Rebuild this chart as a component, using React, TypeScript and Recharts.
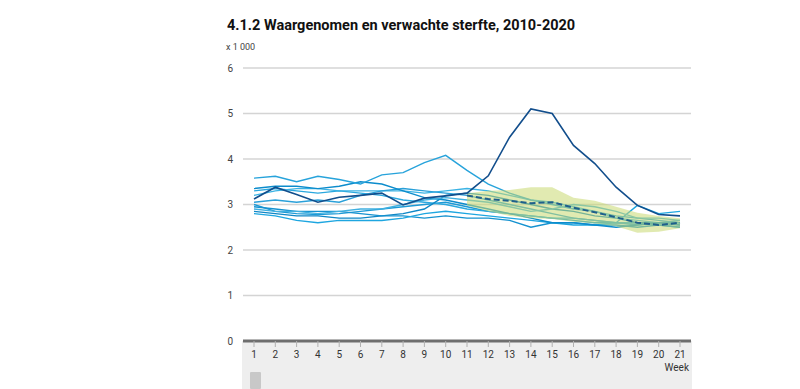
import { ComposedChart, Line, Area, XAxis, YAxis, CartesianGrid } from 'recharts';

const weeks = ['1', '2', '3', '4', '5', '6', '7', '8', '9', '10', '11', '12', '13', '14', '15', '16', '17', '18', '19', '20', '21'];
const yTicks = [0, 1, 2, 3, 4, 5, 6];

// waargenomen sterfte per week, x 1 000
const y2010 = [3.0, 2.85, 2.8, 2.78, 2.8, 2.85, 2.9, 2.95, 3.0, 3.05, 2.95, 2.85, 2.8, 2.75, 2.7, 2.65, 2.6, 2.6, 2.6, 2.6, 2.55];
const y2011 = [3.3, 3.35, 3.3, 3.25, 3.3, 3.25, 3.2, 3.1, 3.05, 3.0, 2.9, 2.85, 2.8, 2.75, 2.7, 2.7, 2.65, 2.6, 2.6, 2.55, 2.5];
const y2012 = [2.85, 2.8, 2.75, 2.75, 2.7, 2.7, 2.75, 2.8, 2.9, 3.2, 3.25, 3.2, 3.1, 3.0, 2.9, 2.85, 2.75, 2.7, 2.6, 2.6, 2.55];
const y2013 = [3.2, 3.3, 3.35, 3.35, 3.3, 3.3, 3.3, 3.3, 3.25, 3.3, 3.35, 3.3, 3.2, 3.1, 3.05, 2.95, 2.85, 2.7, 2.65, 2.6, 2.6];
const y2014 = [2.95, 2.9, 2.85, 2.85, 2.85, 2.8, 2.75, 2.75, 2.7, 2.75, 2.7, 2.7, 2.65, 2.5, 2.6, 2.6, 2.55, 2.55, 2.5, 2.55, 2.5];
const y2015 = [3.05, 3.1, 3.05, 3.1, 3.05, 3.2, 3.3, 3.35, 3.3, 3.25, 3.2, 3.1, 3.0, 2.9, 2.8, 2.7, 2.65, 2.6, 2.55, 2.6, 2.6];
const y2016 = [2.8, 2.75, 2.65, 2.6, 2.65, 2.65, 2.65, 2.7, 2.8, 2.85, 2.8, 2.75, 2.7, 2.65, 2.6, 2.55, 2.55, 2.6, 2.98, 2.8, 2.85];
const y2017 = [3.35, 3.4, 3.4, 3.35, 3.4, 3.5, 3.45, 3.3, 3.15, 3.1, 3.0, 2.9, 2.8, 2.7, 2.6, 2.6, 2.55, 2.5, 2.55, 2.6, 2.65];
const y2018 = [3.58, 3.62, 3.5, 3.62, 3.55, 3.45, 3.65, 3.7, 3.92, 4.08, 3.75, 3.45, 3.25, 3.1, 3.0, 2.9, 2.85, 2.75, 2.7, 2.65, 2.6];
const y2019 = [2.9, 2.85, 2.85, 2.8, 2.85, 2.9, 2.9, 3.0, 3.1, 3.15, 3.1, 3.05, 2.95, 2.85, 2.9, 3.0, 2.95, 2.85, 2.7, 2.7, 2.65];
const y2020 = [3.12, 3.38, 3.22, 3.05, 3.16, 3.2, 3.25, 2.99, 3.14, 3.19, 3.25, 3.63, 4.48, 5.1, 5.0, 4.3, 3.9, 3.38, 2.98, 2.78, 2.75];

// verwachte sterfte vanaf week 11
const expected = [3.2, 3.12, 3.08, 3.03, 3.05, 2.93, 2.83, 2.72, 2.6, 2.55, 2.6];
const bandLow = [2.98, 2.85, 2.75, 2.7, 2.68, 2.62, 2.58, 2.52, 2.38, 2.4, 2.48];
const bandHigh = [3.25, 3.3, 3.32, 3.38, 3.38, 3.15, 3.08, 2.95, 2.82, 2.75, 2.7];
const expStart = 10;

const years = [
  { key: 'y2010', values: y2010, color: '#1c9ad6' },
  { key: 'y2011', values: y2011, color: '#2aa8df' },
  { key: 'y2012', values: y2012, color: '#0f87c6' },
  { key: 'y2013', values: y2013, color: '#3bb3e4' },
  { key: 'y2014', values: y2014, color: '#1592d0' },
  { key: 'y2015', values: y2015, color: '#2aa0d9' },
  { key: 'y2016', values: y2016, color: '#1ea6e0' },
  { key: 'y2017', values: y2017, color: '#0c8ccc' },
  { key: 'y2018', values: y2018, color: '#27a3db' },
  { key: 'y2019', values: y2019, color: '#40b0e0' },
];

const data = weeks.map((w, i) => {
  const row: any = { week: w, y2020: y2020[i] };
  years.forEach((y) => (row[y.key] = y.values[i]));
  const j = i - expStart;
  if (j >= 0) {
    row.expected = expected[j];
    row.band = [bandLow[j], bandHigh[j]];
  }
  return row;
});

const font = 'Roboto, "Noto Sans", sans-serif';

export default function App() {
  return (
    <div style={{ position: 'absolute', left: 0, top: 0, width: 800, height: 389, background: '#fff', fontFamily: font, overflow: 'hidden' }}>
      <div style={{ position: 'absolute', left: 242, top: 341, width: 450, height: 48, background: '#eeeeee' }} />
      <div style={{ position: 'absolute', left: 227, top: 17, fontSize: 14.5, fontWeight: 700, color: '#111', whiteSpace: 'nowrap' }}>
        4.1.2 Waargenomen en verwachte sterfte, 2010-2020
      </div>
      <div style={{ position: 'absolute', left: 226, top: 42, fontSize: 9, color: '#444' }}>x 1 000</div>
      <div style={{ position: 'absolute', right: 800 - 689, top: 362, fontSize: 10, color: '#333' }}>Week</div>
      <div style={{ position: 'absolute', left: 250, top: 372, width: 11, height: 17, background: '#c8c8c8', borderRadius: 1 }} />
      <div style={{ position: 'absolute', left: 0, top: 0 }}>
        <ComposedChart width={800} height={389} data={data} margin={{ top: 68, right: 109, bottom: 18, left: 213 }}>
          <CartesianGrid vertical={false} stroke="#d4d4d4" strokeWidth={1.5} />
          <XAxis
            dataKey="week"
            scale="point"
            padding={{ left: 11, right: 11 }}
            height={30}
            axisLine={{ stroke: '#6e6e6e', strokeWidth: 3 }}
            tickLine={{ stroke: '#b0b0b0' }}
            tickSize={6}
            tickMargin={4}
            tick={{ fontSize: 10, fill: '#333', fontFamily: font }}
            interval={0}
          />
          <YAxis
            domain={[0, 6]}
            ticks={yTicks}
            width={30}
            axisLine={false}
            tickLine={false}
            tickSize={0}
            tickMargin={10}
            tick={{ fontSize: 10, fill: '#444', fontFamily: font }}
          />
          {years.map((y) => (
            <Line key={y.key} dataKey={y.key} stroke={y.color} strokeWidth={1.4} dot={false} isAnimationActive={false} />
          ))}
          <Area dataKey="band" fill="#c8d971" fillOpacity={0.55} stroke="none" isAnimationActive={false} zIndex={450} />
          <Line dataKey="expected" stroke="#1f5f8b" strokeWidth={2} strokeDasharray="6 3" dot={false} isAnimationActive={false} zIndex={500} />
          <Line dataKey="y2020" stroke="#124e8c" strokeWidth={1.6} dot={false} isAnimationActive={false} zIndex={500} />
        </ComposedChart>
      </div>
    </div>
  );
}
